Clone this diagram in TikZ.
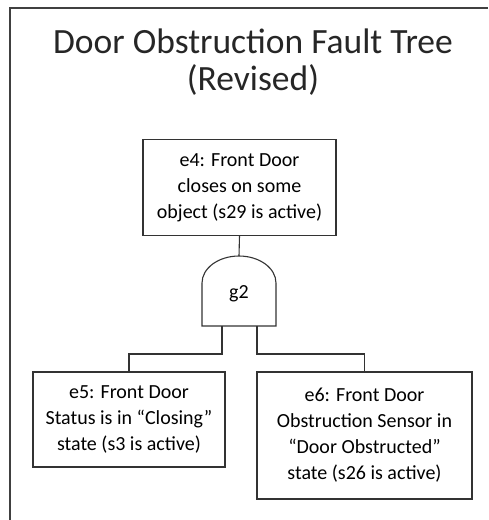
\documentclass[tikz,border=0pt]{standalone}
\usepackage{fontspec}
\setmainfont{Carlito}
\begin{document}
\begin{tikzpicture}[x=1pt,y=-1pt,
  frame/.style={draw=black!75,line width=1.6pt},
  heading/.style={anchor=base,inner sep=0pt,font=\fontsize{35.5}{38}\selectfont,text=black!85},
  event/.style={draw=black!80,line width=1.3pt,align=center,inner sep=0pt,
    font=\fontsize{20}{26}\selectfont},
  wire/.style={draw=black!80,line width=1.1pt},
  gateline/.style={draw=black!80,line width=1.1pt}]
\useasboundingbox (0,0) rectangle (488,520);
% page frame, running off the right and bottom edges
\draw[frame] (10,520) -- (10,8) -- (488,8);
% title
\node (title1) [heading] at (253,53) {Door Obstruction Fault Tree};
\node (title2) [heading] at (253,90) {(Revised)};
% top event
\node (e4) [event,minimum width=193pt,minimum height=96pt] at (239.5,187.5)
  {e4: Front Door\\closes on some\\object (s29 is active)};
% AND gate g2
\coordinate (gtop) at (239,256);
\coordinate (gl) at (222,326);
\coordinate (gr) at (257,326);
\draw[gateline] (202,326) -- (202,283) arc[start angle=180,end angle=360,x radius=37,y radius=27]
  -- (276,326) -- cycle;
\node (g2) at (239,294) [font=\fontsize{20}{24}\selectfont] {g2};
% basic events
\node (e5) [event,minimum width=192pt,minimum height=95pt] at (129,419.5)
  {e5: Front Door\\Status is in ``Closing''\\state (s3 is active)};
\node (e6) [event,minimum width=215pt,minimum height=127pt] at (364.5,435.5)
  {e6: Front Door\\Obstruction Sensor in\\``Door Obstructed''\\state (s26 is active)};
% connectors
\draw[wire] (e4.south) -- (gtop);
\draw[wire] (gl) -- ++(0,28) -| (e5.north);
\draw[wire] (gr) -- ++(0,28) -| (e6.north);
\end{tikzpicture}
\end{document}
